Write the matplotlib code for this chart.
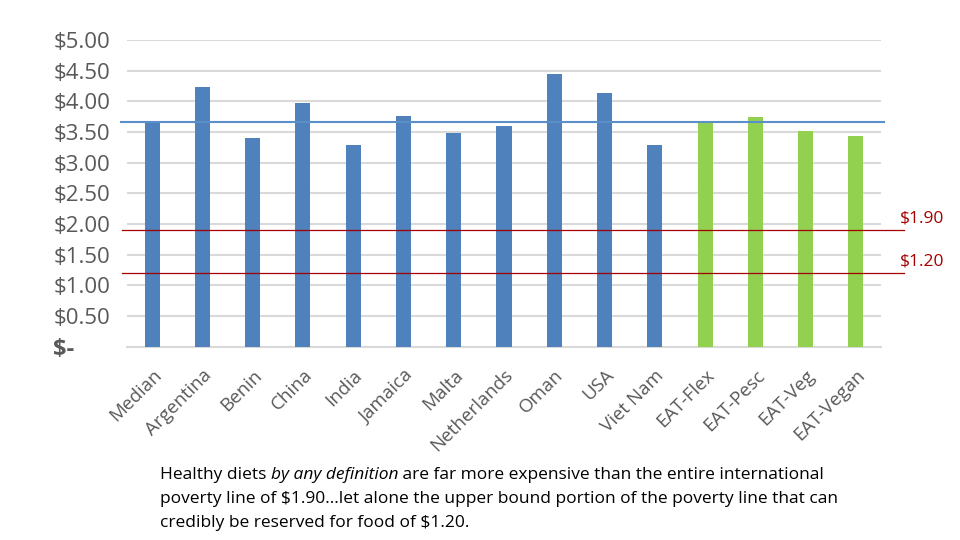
import matplotlib
matplotlib.use("Agg")
import matplotlib.pyplot as plt

categories = ["Median", "Argentina", "Benin", "China", "India", "Jamaica", "Malta",
              "Netherlands", "Oman", "USA", "Viet Nam", "EAT-Flex", "EAT-Pesc",
              "EAT-Veg", "EAT-Vegan"]
values = [3.67, 4.24, 3.40, 3.97, 3.29, 3.76, 3.48, 3.60, 4.45, 4.14, 3.29,
          3.67, 3.74, 3.52, 3.44]
groups = ["c"] * 11 + ["e"] * 4
median_line = 3.67
poverty_lines = [1.90, 1.20]
poverty_labels = ["$1.90", "$1.20"]
yticks = [0, 0.5, 1.0, 1.5, 2.0, 2.5, 3.0, 3.5, 4.0, 4.5, 5.0]
ytick_labels = ["$-", "$0.50", "$1.00", "$1.50", "$2.00", "$2.50", "$3.00",
                "$3.50", "$4.00", "$4.50", "$5.00"]
caption1 = "Healthy diets "
caption_it = "by any definition"
caption2 = " are far more expensive than the entire international"
caption_l2 = "poverty line of $1.90\u2026let alone the upper bound portion of the poverty line that can"
caption_l3 = "credibly be reserved for food of $1.20."

plt.rcParams['font.family'] = ['Open Sans', 'DejaVu Sans']
fig = plt.figure(figsize=(9.6, 5.4), dpi=100)
ax = fig.add_axes([127/960, 1-346.7/540, (881-127)/960, (346.7-40)/540])

colors = {"c": "#4F81BD", "e": "#92D050"}
x = list(range(len(categories)))
ax.bar(x, values, width=0.3, color=[colors[g] for g in groups], zorder=3)
ax.set_xlim(-0.5, len(categories) - 0.5)
ax.set_ylim(0, 5)
ax.set_yticks(yticks)
ax.set_yticklabels(ytick_labels)
ax.grid(axis='y', color='#D9D9D9', lw=1.5, zorder=0)
for s in ['top', 'right', 'left']:
    ax.spines[s].set_visible(False)
ax.spines['bottom'].set_color('#D9D9D9')
ax.spines['bottom'].set_linewidth(1.5)
ax.tick_params(axis='y', length=0, pad=53, labelsize=16, labelcolor='#595959')
for lab in ax.get_yticklabels():
    lab.set_horizontalalignment('left')
ytl = ax.get_yticklabels()
ytl[0].set_fontweight('bold')
ytl[0].set_fontsize(17)
ax.set_xticks(x)
ax.set_xticklabels(categories, rotation=45, ha='right', rotation_mode='anchor',
                   fontsize=13.5, color='#595959')
ax.tick_params(axis='x', length=0, pad=14)

# median line (extends slightly left of plot)
ax.plot([-0.61, 14.55], [median_line, median_line], color='#5B8FC9', lw=1.5,
        zorder=4, clip_on=False)
# poverty lines
for v, lab in zip(poverty_lines, poverty_labels):
    ax.plot([-0.6, 14.95], [v, v], color='#A50000', lw=0.9, zorder=4, clip_on=False)
    ax.text(14.87, v + 0.06, lab, color='#A50000', fontsize=12.5, ha='left',
            va='bottom', clip_on=False)

# caption with italic segment
fs = 12.5
t1 = fig.text(160/960, 1-475/540, caption1, fontsize=fs, va='center', color='black')
fig.canvas.draw()
r = fig.canvas.get_renderer()
bb = t1.get_window_extent(r)
t2 = fig.text(bb.x1/960, 1-475/540, caption_it, fontsize=fs, va='center',
              style='italic', color='black')
bb2 = t2.get_window_extent(r)
fig.text(bb2.x1/960, 1-475/540, caption2, fontsize=fs, va='center', color='black')
fig.text(160/960, 1-499/540, caption_l2, fontsize=fs, va='center', color='black')
fig.text(160/960, 1-523/540, caption_l3, fontsize=fs, va='center', color='black')

fig.savefig("out.png", dpi=100)
